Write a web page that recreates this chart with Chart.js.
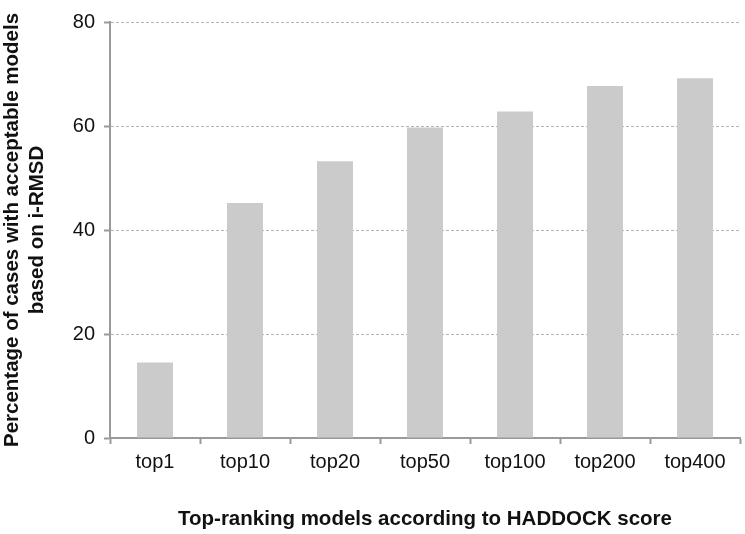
<!DOCTYPE html>
<html>
<head>
<meta charset="utf-8">
<script src="https://cdn.jsdelivr.net/npm/chart.js@4.4.1/dist/chart.umd.min.js"></script>
<style>
  html, body { margin: 0; padding: 0; background: #fff; }
  #wrap { width: 745px; height: 534px; }
</style>
</head>
<body>
<div id="wrap"><canvas id="chart"></canvas></div>
<script>
// data
const categories = ['top1', 'top10', 'top20', 'top50', 'top100', 'top200', 'top400'];
const acceptable = [14.5, 45.2, 53.2, 59.7, 62.8, 67.7, 69.2];
const yTicks = [0, 20, 40, 60, 80];

const fontFamily = '"Liberation Sans", Arial, Helvetica, sans-serif';

new Chart(document.getElementById('chart'), {
    type: 'bar',
    data: {
        labels: categories,
        datasets: [{
            data: acceptable,
            backgroundColor: '#cbcbcb',
            borderWidth: 0,
            barPercentage: 0.4,
            categoryPercentage: 1.0
        }]
    },
    options: {
        responsive: true,
        maintainAspectRatio: false,
        animation: false,
        layout: { padding: { top: 22, right: 5, left: 0, bottom: 0 } },
        plugins: {
            legend: { display: false },
            tooltip: { enabled: false }
        },
        scales: {
            x: {
                grid: {
                    offset: true,
                    drawOnChartArea: false,
                    drawTicks: true,
                    tickLength: 6,
                    tickColor: '#9a9a9a',
                    tickWidth: 2
                },
                border: { color: '#9a9a9a', width: 2 },
                ticks: {
                    color: '#111',
                    font: { family: fontFamily, size: 20 },
                    padding: 6,
                    maxRotation: 0
                },
                title: {
                    display: true,
                    text: 'Top-ranking models according to HADDOCK score',
                    color: '#111',
                    font: { family: fontFamily, size: 20.5, weight: 'bold' },
                    padding: { top: 0, bottom: 2 }
                },
                afterFit: (scale) => { scale.height = 96; }
            },
            y: {
                min: 0,
                max: 80,
                afterBuildTicks: (scale) => { scale.ticks = yTicks.map(v => ({ value: v })); },
                grid: {
                    color: '#b4b4b4',
                    lineWidth: 1,
                    tickLength: 6,
                    tickColor: '#9a9a9a',
                    tickWidth: 2,
                    tickBorderDash: []
                },
                border: { color: '#9a9a9a', width: 2, dash: [3, 2] },
                ticks: {
                    color: '#111',
                    font: { family: fontFamily, size: 20 },
                    padding: 9
                },
                title: {
                    display: true,
                    text: ['Percentage of cases with acceptable models', 'based on i-RMSD'],
                    color: '#111',
                    font: { family: fontFamily, size: 20.5, weight: 'bold', lineHeight: 1.2 },
                    padding: { top: 0, bottom: 0 }
                },
                afterFit: (scale) => { scale.width = 110; }
            }
        }
    }
});
</script>
</body>
</html>
